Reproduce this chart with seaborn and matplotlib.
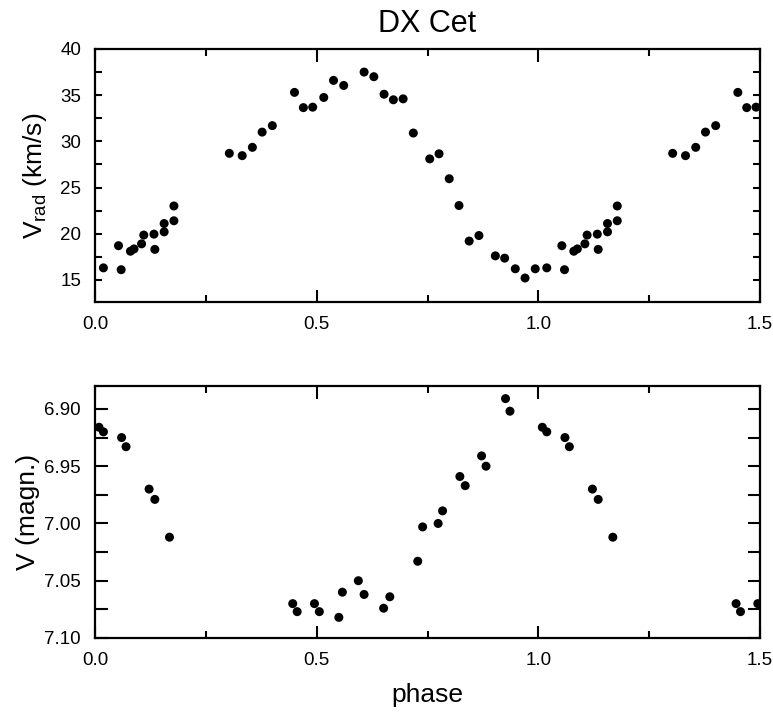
# %%
import numpy as np
import pandas as pd
import seaborn as sns
from matplotlib import pyplot as plt
from matplotlib.ticker import MultipleLocator, FormatStrFormatter

# %%
# radial velocity curve (phase 0..1)
rv_phase = [0.019, 0.053, 0.059, 0.080, 0.088, 0.105, 0.110, 0.133, 0.135, 0.156,
            0.156, 0.178, 0.178, 0.303, 0.332, 0.355, 0.377, 0.400, 0.450, 0.470,
            0.491, 0.516, 0.538, 0.561, 0.607, 0.629, 0.652, 0.673, 0.695, 0.718,
            0.755, 0.776, 0.799, 0.821, 0.844, 0.866, 0.903, 0.924, 0.948, 0.970,
            0.993]
rv_vals = [16.3, 18.7, 16.1, 18.1, 18.35, 18.9, 19.85, 19.95, 18.3, 20.2,
           21.1, 21.4, 23.0, 28.7, 28.45, 29.35, 31.0, 31.7, 35.3, 33.65,
           33.7, 34.75, 36.6, 36.05, 37.5, 37.0, 35.1, 34.5, 34.6, 30.9,
           28.1, 28.65, 25.95, 23.05, 19.2, 19.8, 17.6, 17.35, 16.2, 15.2,
           16.2]

# photometry (phase 0..1)
ph_phase = [0.009, 0.019, 0.060, 0.070, 0.122, 0.135, 0.168, 0.446, 0.456, 0.495,
            0.506, 0.550, 0.558, 0.594, 0.607, 0.651, 0.665, 0.728, 0.739, 0.774,
            0.784, 0.823, 0.835, 0.872, 0.882, 0.926, 0.936]
ph_vals = [6.916, 6.920, 6.925, 6.933, 6.970, 6.979, 7.012, 7.070, 7.077, 7.070,
           7.077, 7.082, 7.060, 7.050, 7.062, 7.074, 7.064, 7.033, 7.003, 7.000,
           6.989, 6.959, 6.967, 6.941, 6.950, 6.891, 6.902]

# %%
def fold(phase, vals):
    df = pd.DataFrame({"phase": phase, "val": vals})
    rep = df.assign(phase=df["phase"] + 1)
    return pd.concat([df, rep[rep["phase"] <= 1.5]], ignore_index=True)

rv = fold(rv_phase, rv_vals)
ph = fold(ph_phase, ph_vals)

# %%
sns.set_style("ticks")
plt.rcParams['font.family'] = ['Liberation Sans', 'DejaVu Sans']
plt.rcParams['mathtext.fontset'] = 'custom'
plt.rcParams['mathtext.rm'] = 'Liberation Sans'
plt.rcParams['mathtext.it'] = 'Liberation Sans'
plt.rcParams['text.color'] = 'black'
plt.rcParams['axes.labelcolor'] = 'black'
plt.rcParams['xtick.color'] = 'black'
plt.rcParams['ytick.color'] = 'black'

fig = plt.figure(figsize=(7.73, 7.13), dpi=100)
ax1 = fig.add_axes([0.1229, 0.5764, 0.8603, 0.3549])
ax2 = fig.add_axes([0.1229, 0.1052, 0.8603, 0.3534])

sns.scatterplot(data=rv, x="phase", y="val", ax=ax1, color='black', s=42,
                edgecolor='none', legend=False)
sns.scatterplot(data=ph, x="phase", y="val", ax=ax2, color='black', s=42,
                edgecolor='none', legend=False)

ax1.set_xlim(0, 1.5)
ax1.set_ylim(12.6, 40)
ax2.set_xlim(0, 1.5)
ax2.set_ylim(7.10, 6.88)

for ax, ylen in [(ax1, 5), (ax2, 9)]:
    ax.xaxis.set_major_locator(MultipleLocator(0.5))
    ax.xaxis.set_minor_locator(MultipleLocator(0.25))
    ax.xaxis.set_major_formatter(FormatStrFormatter('%.1f'))
    ax.tick_params(axis='x', which='major', direction='in', top=True, bottom=True,
                   length=9, width=1.5, labelsize=13.5, pad=10)
    ax.tick_params(axis='x', which='minor', direction='in', top=True, bottom=True,
                   length=5, width=1.5)
    ax.tick_params(axis='y', which='both', direction='in', left=True, right=True,
                   length=ylen, width=1.5, labelsize=13.5, pad=10)
    for sp in ax.spines.values():
        sp.set_linewidth(1.6)
        sp.set_color('black')

ax1.yaxis.set_major_locator(MultipleLocator(5))
ax1.yaxis.set_minor_locator(MultipleLocator(2.5))
ax2.yaxis.set_major_locator(MultipleLocator(0.05))
ax2.yaxis.set_minor_locator(MultipleLocator(0.025))
ax2.yaxis.set_major_formatter(FormatStrFormatter('%.2f'))

ax1.set_xlabel("")
ax1.set_ylabel(r"V$_{\rm rad}$ (km/s)", fontsize=19, labelpad=8)
ax2.set_xlabel("phase", fontsize=19, labelpad=10)
ax2.set_ylabel("V (magn.)", fontsize=19, labelpad=3)
ax1.set_title("DX Cet", fontsize=22, pad=12)

fig.savefig("out.png", dpi=100)
